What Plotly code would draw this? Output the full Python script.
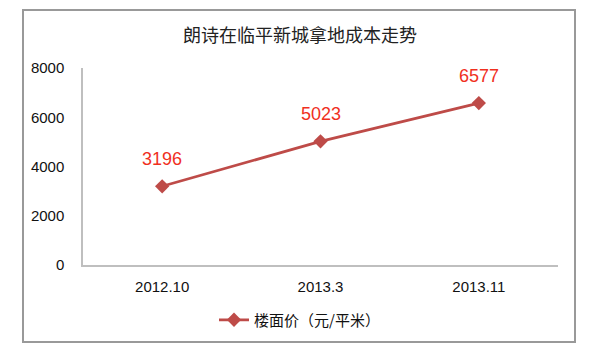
import plotly.graph_objects as go

categories = ["2012.10", "2013.3", "2013.11"]
values = [3196, 5023, 6577]
series_name = "楼面价（元/平米）"
title_text = "朗诗在临平新城拿地成本走势"
y_ticks = [0, 2000, 4000, 6000, 8000]

W, H = 600, 351
L, R, T, B = 83, 42, 68, 86
pw, ph = W - L - R, H - T - B

fig = go.Figure()
fig.add_trace(go.Scatter(
    x=categories, y=values, name=series_name,
    mode="lines+markers",
    line=dict(color="#BE4B48", width=2.75),
    marker=dict(symbol="diamond", size=11, color="#BE4B48"),
    cliponaxis=False,
))
for i, v in enumerate(values):
    fig.add_annotation(x=i, y=v, xref="x", yref="y", text=str(v), showarrow=False,
                       yshift=27,
                       font=dict(color="#F0301E", size=18,
                                 family="Liberation Sans, Arial, sans-serif"))

def px(x):
    return (x - L) / pw

def py(y):
    return (H - B - y) / ph

fig.update_layout(
    width=W, height=H,
    margin=dict(l=L, r=R, t=T, b=B),
    paper_bgcolor="white", plot_bgcolor="white",
    title=dict(text=title_text, x=px(300), xanchor="center", xref="paper",
               y=(H - 36) / H, yanchor="middle",
               font=dict(size=18, color="#222222", family="Noto Sans CJK SC, sans-serif")),
    font=dict(family="Liberation Sans, Arial, sans-serif", size=15, color="#111111"),
    showlegend=True,
    legend=dict(orientation="h", x=px(214), xanchor="left", y=py(320), yanchor="middle",
                font=dict(size=15, family="Noto Sans CJK SC, sans-serif", color="#111111"),
                itemwidth=30),
    xaxis=dict(type="category", range=[-0.5, 2.5], showgrid=False,
               showline=True, linecolor="#BFBFBF", linewidth=1.5,
               ticks="", tickfont=dict(size=15), ticklabelstandoff=7, fixedrange=True),
    yaxis=dict(range=[0, 8000], tickvals=y_ticks, showgrid=False, zeroline=False,
               showline=True, linecolor="#BFBFBF", linewidth=1.5,
               ticks="", tickfont=dict(size=15), ticklabelstandoff=14, fixedrange=True),
    shapes=[dict(type="rect", xref="paper", yref="paper",
                 x0=px(23), x1=px(575), y0=py(342), y1=py(10),
                 line=dict(color="#999999", width=2), layer="below")],
)

fig.write_html("out.html")
